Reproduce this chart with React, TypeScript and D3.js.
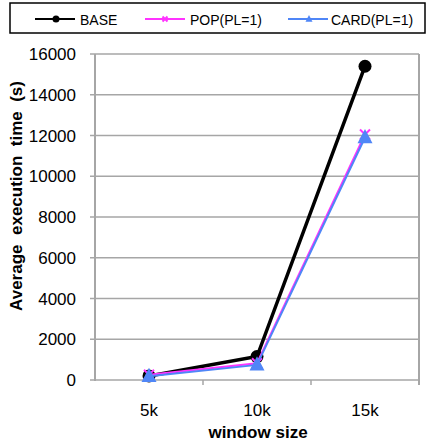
import React from "react";
import * as d3 from "d3";

const categories = ["5k", "10k", "15k"];
const baseValues = [200, 1150, 15400];
const popValues = [260, 820, 12050];
const cardValues = [180, 740, 11900];
const yTicks = [0, 2000, 4000, 6000, 8000, 10000, 12000, 14000, 16000];

const W = 430, H = 446;
const left = 95, right = 419, top = 54, bottom = 380;
const font = "Liberation Sans, Arial, sans-serif";
const grid = "#A6A6A6";
const BLACK = "#000000", PINK = "#FF33FF", BLUE = "#4F86F7";

function triPath(cx: number, cy: number, s: number) {
  const h = s * 0.95;
  return `M${cx},${cy - h * 0.6} L${cx + s / 2},${cy + h * 0.4} L${cx - s / 2},${cy + h * 0.4} Z`;
}

function XMark({ cx, cy, r, color }: { cx: number; cy: number; r: number; color: string }) {
  return (
    <g stroke={color} strokeWidth={2}>
      <line x1={cx - r} y1={cy - r} x2={cx + r} y2={cy + r} />
      <line x1={cx - r} y1={cy + r} x2={cx + r} y2={cy - r} />
    </g>
  );
}

export default function App() {
  const x = d3.scaleBand<string>().domain(categories).range([left, right]);
  const y = d3.scaleLinear().domain([0, 16000]).range([bottom, top]);
  const cx = (c: string) => (x(c) as number) + x.bandwidth() / 2;
  const line = d3
    .line<number>()
    .x((_, i) => cx(categories[i]))
    .y((d) => y(d));

  return (
    <svg width={W} height={H} style={{ position: "absolute", left: 0, top: 0 }}>
      <rect width={W} height={H} fill="#fff" />
      {/* Legend */}
      <rect x={10} y={3} width={415} height={30} fill="#fff" stroke="#000" strokeWidth={1.5} />
      <line x1={35} y1={19} x2={75} y2={19} stroke={BLACK} strokeWidth={2} />
      <circle cx={56} cy={19} r={3.5} fill={BLACK} />
      <text x={80} y={25} fontFamily={font} fontSize={14}>BASE</text>
      <line x1={145} y1={19} x2={185} y2={19} stroke={PINK} strokeWidth={2} />
      <XMark cx={165} cy={19} r={2.5} color={PINK} />
      <text x={190} y={25} fontFamily={font} fontSize={14}>POP(PL=1)</text>
      <line x1={288} y1={19} x2={328} y2={19} stroke={BLUE} strokeWidth={2} />
      <path d={triPath(309, 19, 7)} fill={BLUE} />
      <text x={331} y={25} fontFamily={font} fontSize={14}>CARD(PL=1)</text>

      {/* gridlines */}
      {yTicks.map((t) => (
        <g key={t}>
          <line x1={left - 5} x2={right} y1={y(t)} y2={y(t)} stroke={grid} strokeWidth={1.5} />
          <text x={76} y={y(t) + 6} textAnchor="end" fontFamily={font} fontSize={17}>
            {t}
          </text>
        </g>
      ))}
      <line x1={left} x2={left} y1={top} y2={bottom + 1} stroke={grid} strokeWidth={2} />
      <line x1={right} x2={right} y1={top} y2={bottom + 5} stroke={grid} strokeWidth={2} />
      {categories.slice(1).map((c) => (
        <line key={c} x1={x(c) as number} x2={x(c) as number} y1={bottom} y2={bottom + 5} stroke={grid} strokeWidth={1.5} />
      ))}
      {categories.map((c) => (
        <text key={c} x={cx(c)} y={416} textAnchor="middle" fontFamily={font} fontSize={17}>
          {c}
        </text>
      ))}
      <text x={258} y={438} textAnchor="middle" fontFamily={font} fontSize={17} fontWeight="bold">
        window size
      </text>
      <text
        transform={`translate(22,196) rotate(-90)`}
        textAnchor="middle"
        fontFamily={font}
        fontSize={17}
        fontWeight="bold"
        style={{ whiteSpace: "pre" }}
      >
        {"Average  execution  time  (s)"}
      </text>

      {/* series */}
      <path d={line(baseValues) || ""} fill="none" stroke={BLACK} strokeWidth={3.5} />
      {baseValues.map((v, i) => (
        <circle key={i} cx={cx(categories[i])} cy={y(v)} r={6.5} fill={BLACK} />
      ))}
      <path d={line(popValues) || ""} fill="none" stroke={PINK} strokeWidth={2} />
      {popValues.map((v, i) => (
        <XMark key={i} cx={cx(categories[i])} cy={y(v)} r={5} color={PINK} />
      ))}
      <path d={line(cardValues) || ""} fill="none" stroke={BLUE} strokeWidth={2} />
      {cardValues.map((v, i) => (
        <path key={i} d={triPath(cx(categories[i]), y(v), 15)} fill={BLUE} />
      ))}
    </svg>
  );
}
